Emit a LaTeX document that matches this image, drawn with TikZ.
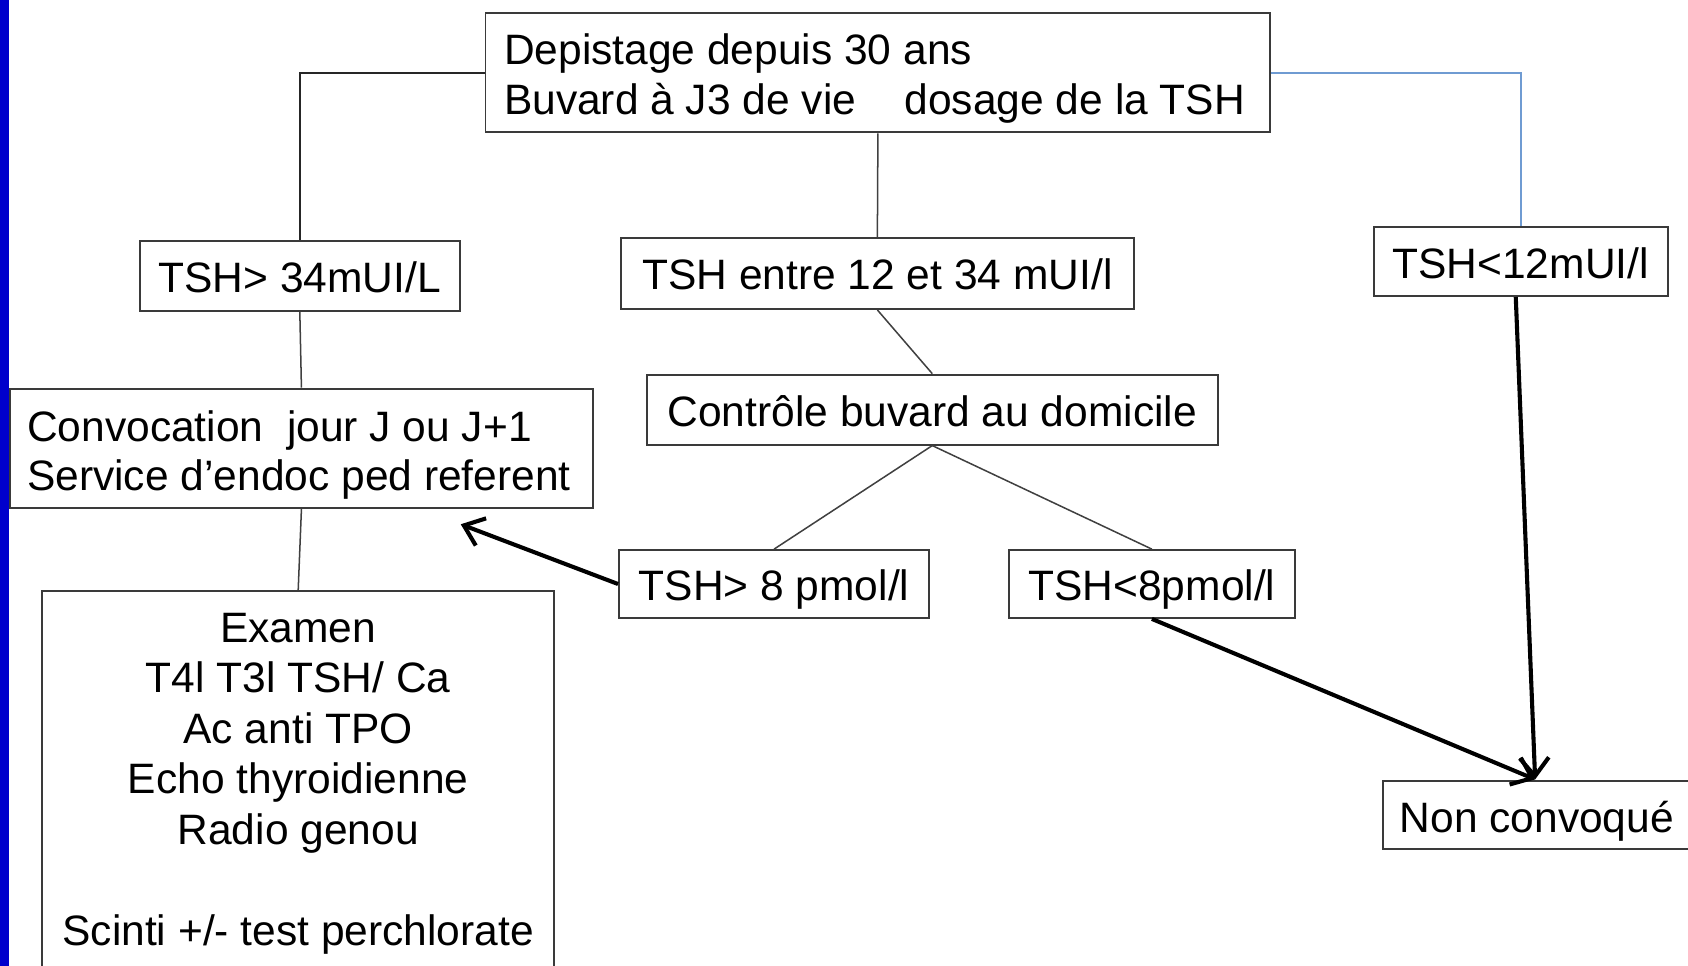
\documentclass[tikz,border=0pt]{standalone}
\usepackage{fontspec}
\setmainfont{Liberation Sans}
\usetikzlibrary{arrows.meta}
\definecolor{barblue}{RGB}{0,0,204}
\definecolor{linkblue}{RGB}{111,155,210}
\definecolor{boxgray}{RGB}{58,58,58}
\newcommand{\diagfont}{\fontsize{39.5pt}{46pt}\selectfont}
\newcommand{\examfont}{\fontsize{39.5pt}{47pt}\selectfont}
\tikzset{
  box/.style={draw=boxgray, line width=1.8pt, inner sep=0pt, font=\diagfont, fill=white,
              text height=30.5pt, text depth=0pt},
  txt/.style={inner sep=0pt, font=\diagfont},
  link/.style={draw=black!75, line width=1.4pt},
  bluelink/.style={draw=linkblue, line width=1.8pt},
  thick arrow/.style={draw=black, line width=3.8pt, -{Straight Barb[length=17pt,width=27pt,line width=3.8pt]}}
}
\begin{document}
\begin{tikzpicture}[x=1pt,y=-1pt]
\useasboundingbox (0,0) rectangle (1568,897);
\clip (0,0) rectangle (1568,897);
\fill[white] (0,0) rectangle (1568,897);
\fill[barblue] (0,0) rectangle (8.5,897);

% boxes
\node[box, minimum width=729pt, minimum height=111pt] (top) at (815.5,67.5) {};
\node[txt, anchor=north west, align=left] (toptext) at (468,31.5)
  {Depistage depuis 30 ans\\Buvard à J3 de vie\hspace{45pt}dosage de la TSH};
\node[box, minimum width=297pt, minimum height=65pt] (tsh34) at (278.5,256.5) {TSH> 34mUI/L};
\node[box, minimum width=476pt, minimum height=66pt] (tshmid) at (815,254) {TSH entre 12 et 34 mUI/l};
\node[box, minimum width=273pt, minimum height=64pt] (tsh12) at (1412.5,243) {TSH<12mUI/l};
\node[box, minimum width=542pt, minimum height=111pt] (conv) at (280,416.5) {};
\node[txt, anchor=north west, align=left] (convtext) at (25,381)
  {Convocation\ \ jour J ou J+1\\Service d’endoc ped referent};
\node[box, minimum width=476pt, minimum height=380pt, anchor=north] (exam) at (277,548) {};
\node[txt, font=\examfont, anchor=north, align=center] (examtext) at (277,569)
  {Examen\\T4l T3l TSH/ Ca\\Ac anti TPO\\Echo thyroidienne\\Radio genou\\[47pt]Scinti +/- test perchlorate};
\node[box, minimum width=530pt, minimum height=65pt] (ctrl) at (866,380.5) {Contrôle buvard au domicile};
\node[box, minimum width=288pt, minimum height=63pt] (tsh8a) at (719,542.5) {TSH> 8 pmol/l};
\node[box, minimum width=266pt, minimum height=63pt] (tsh8b) at (1070,542.5) {TSH<8pmol/l};
\node[box, minimum width=330pt, minimum height=63pt, anchor=west] (non) at (1284,757) {};
\node[txt, anchor=base west] (nontext) at (1300,773.5) {Non convoqué};

\coordinate (convtip) at (428,487);
\coordinate (nontip) at (1426,724);

% connectors
\draw[link, draw=black!85, line width=1.6pt] (top.west) -| (tsh34.north);
\draw[link] (top.south) -- (tshmid.north);
\draw[bluelink] (top.east) -| (tsh12.north);
\draw[link] (tsh34.south) -- (conv.north);
\draw[link] (conv.south) -- (exam.north);
\draw[link] (tshmid.south) -- (ctrl.north);
\draw[link] (ctrl.south) -- (tsh8a.north);
\draw[link] (ctrl.south) -- (tsh8b.north);
\draw[thick arrow] (tsh8a.west) -- (convtip);
\draw[thick arrow] (tsh8b.south) -- (nontip);
\draw[thick arrow] ([xshift=-4.5pt]tsh12.south) -- (nontip);
\end{tikzpicture}
\end{document}
